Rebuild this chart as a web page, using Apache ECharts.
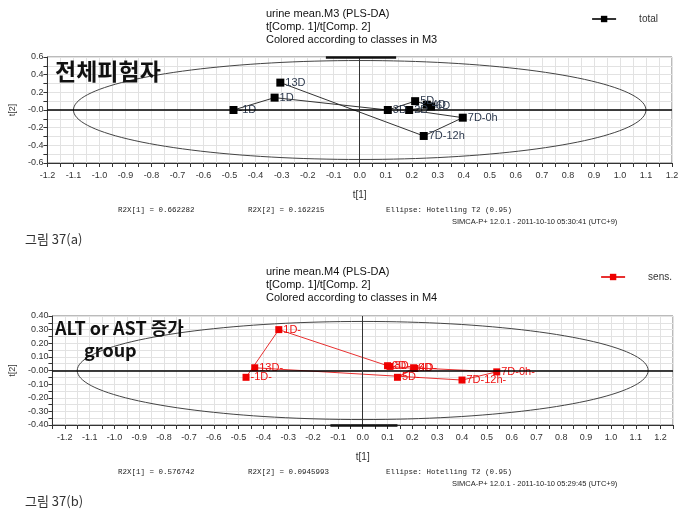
<!DOCTYPE html>
<html><head><meta charset="utf-8">
<script src="https://cdn.jsdelivr.net/npm/echarts@6/dist/echarts.min.js"></script>
<style>html,body{margin:0;padding:0;background:#fff}#c{width:699px;height:524px}</style>
</head><body><div id="c"></div>
<script>
// ---- Data ----
const topLabels = ["-1D","1D","3D","5D","4D","6D","2D","7D-0h","7D-12h","13D"];
const topT1 = [-0.485,-0.327,0.108,0.213,0.258,0.274,0.19,0.396,0.246,-0.305];
const topT2 = [0.0,0.14,0.0,0.10,0.06,0.04,0.0,-0.087,-0.294,0.31];
const botLabels = ["-1D-","1D-","2D-","3D-","4D-","5D-","6D-","7D-0h-","7D-12h-","13D-"];
const botT1 = [-0.47,-0.338,0.10,0.11,0.21,0.14,0.205,0.54,0.40,-0.435];
const botT2 = [-0.05,0.30,0.035,0.03,0.015,-0.05,0.02,-0.01,-0.07,0.02];
const topEllipse = [1.1, 0.56];   // Hotelling T2 (0.95) semi-axes
const botEllipse = [1.15, 0.36];
const topTitle = ["urine mean.M3 (PLS-DA)","t[Comp. 1]/t[Comp. 2]","Colored according to classes in M3"];
const botTitle = ["urine mean.M4 (PLS-DA)","t[Comp. 1]/t[Comp. 2]","Colored according to classes in M4"];
const topFoot = ["R2X[1] = 0.662282","R2X[2] = 0.162215","Ellipse: Hotelling T2 (0.95)","SIMCA-P+ 12.0.1 - 2011-10-10 05:30:41 (UTC+9)","그림 37(a)"];
const botFoot = ["R2X[1] = 0.576742","R2X[2] = 0.0945993","Ellipse: Hotelling T2 (0.95)","SIMCA-P+ 12.0.1 - 2011-10-10 05:29:45 (UTC+9)","그림 37(b)"];

const chart = echarts.init(document.getElementById('c'));
const SANS = 'Liberation Sans, Arial, sans-serif';

function xFmt(v){ const k=Math.round(v*20); if(k%2!==0) return ''; return (k/20).toFixed(1); }
function yFmtTop(v){ const k=Math.round(v*10); if(k%2!==0) return ''; return k===0?'-0.0':(k/10).toFixed(1); }
function yFmtBot(v){ const k=Math.round(v*20); if(k%2!==0) return ''; return k===0?'-0.00':(k/20).toFixed(2); }

function xAxis(gi,min,max){
  return {type:'value', gridIndex:gi, min:min, max:max, interval:0.05, name:'t[1]', nameLocation:'middle', nameGap:27,
    nameTextStyle:{fontSize:10, color:'#333', fontFamily:SANS},
    axisLine:{onZero:false, lineStyle:{color:'#333'}}, axisTick:{show:true, length:4, lineStyle:{color:'#333'}},
    axisLabel:{fontSize:9, color:'#333', fontFamily:SANS, margin:8, formatter:xFmt, showMinLabel:true, showMaxLabel:true},
    splitLine:{show:true, lineStyle:{color:'#e2e2e2', width:1}}};
}
function yAxis(gi,min,max,itv,fmt){
  return {type:'value', gridIndex:gi, min:min, max:max, interval:itv, name:'t[2]', nameLocation:'middle', nameGap:20,
    nameRotate:90, nameTextStyle:{fontSize:9, color:'#333', fontFamily:SANS},
    axisLine:{show:true, onZero:false, lineStyle:{color:'#333'}}, axisTick:{show:true, length:4, lineStyle:{color:'#333'}},
    axisLabel:{fontSize:9, color:'#333', fontFamily:SANS, margin:4, formatter:fmt},
    splitLine:{show:true, lineStyle:{color:'#e2e2e2', width:1}}};
}
function ellipseSeries(gi, ab){
  return {type:'custom', xAxisIndex:gi, yAxisIndex:gi, data:[[0,0]], silent:true, z:1,
    renderItem:function(params, api){
      const pts=[];
      for(let i=0;i<=160;i++){ const t=i/160*2*Math.PI; pts.push(api.coord([ab[0]*Math.cos(t), ab[1]*Math.sin(t)])); }
      return {type:'polyline', shape:{points:pts}, style:{stroke:'#444', fill:null, lineWidth:1}};
    }};
}
function dataSeries(gi,name,xs,ys,labs,color,lineColor,labelColor,size,edgeY){
  return {type:'line', name:name, xAxisIndex:gi, yAxisIndex:gi, z:3,
    data: xs.map((x,i)=>[x, ys[i], labs[i]]),
    symbol:'rect', symbolSize:size, showSymbol:true, animation:false,
    itemStyle:{color:color}, lineStyle:{color:lineColor, width:1},
    label:{show:true, position:'right', distance:1, formatter:p=>p.data[2], color:labelColor, fontSize:11, fontFamily:SANS},
    labelLayout:{hideOverlap:false},
    markLine:{silent:true, symbol:'none', animation:false, label:{show:false},
      data:[
        {yAxis:0, lineStyle:{color:'#000', type:'solid', width:1.5}},
        {xAxis:0, lineStyle:{color:'#333', type:'solid', width:1}},
        [{coord:[-0.13,edgeY], lineStyle:{color:'#111', type:'solid', width:2.5}},{coord:[0.14,edgeY]}]
      ]}};
}

function texts(lines, foot, y0, fy){
  const g=[];
  lines.forEach((t,i)=>g.push({type:'text', left:266, top:y0+i*13, style:{text:t, font:'11px '+SANS, fill:'#111'}}));
  g.push({type:'text', left:118, top:fy, style:{text:foot[0], font:'7.5px Liberation Mono, monospace', fill:'#222'}});
  g.push({type:'text', left:248, top:fy, style:{text:foot[1], font:'7.5px Liberation Mono, monospace', fill:'#222'}});
  g.push({type:'text', left:386, top:fy, style:{text:foot[2], font:'7.5px Liberation Mono, monospace', fill:'#222'}});
  g.push({type:'text', left:452, top:fy+12, style:{text:foot[3], font:'7.5px '+SANS, fill:'#222'}});
  g.push({type:'text', left:25, top:fy+27, style:{text:foot[4], font:'13px Noto Sans CJK KR', fill:'#333'}});
  return g;
}

const graphic = [].concat(
  texts(topTitle, topFoot, 8, 206),
  texts(botTitle, botFoot, 266, 468),
  [
    {type:'text', left:55, top:60, z:10, style:{text:'전체피험자', font:'bold 23px Noto Sans CJK KR', fill:'#111'}},
    {type:'text', left:55, top:319, z:10, style:{text:'ALT or AST 증가', font:'bold 18px Noto Sans CJK KR', fill:'#111'}},
    {type:'text', left:84, top:341, z:10, style:{text:'group', font:'bold 18px Noto Sans CJK KR', fill:'#111'}}
  ]);

chart.setOption({
  animation:false,
  backgroundColor:'#fff',
  grid:[
    {left:43, top:57, width:629, height:106, show:true, borderColor:'#777', borderWidth:1, backgroundColor:'transparent'},
    {left:47, top:316, width:626, height:109, show:true, borderColor:'#777', borderWidth:1, backgroundColor:'transparent'}
  ],
  xAxis:[xAxis(0,-1.2,1.2), xAxis(1,-1.25,1.25)],
  yAxis:[yAxis(0,-0.6,0.6,0.1,yFmtTop), yAxis(1,-0.4,0.4,0.05,yFmtBot)],
  legend:[
    {data:['total'], right:36, top:9, itemWidth:24, itemHeight:8, textStyle:{fontSize:10, color:'#333', fontFamily:SANS, padding:[0,0,0,18]}},
    {data:['sens.'], right:22, top:267, itemWidth:24, itemHeight:8, textStyle:{fontSize:10, color:'#333', fontFamily:SANS, padding:[0,0,0,18]}}
  ],
  graphic: graphic,
  series:[
    ellipseSeries(0, topEllipse),
    ellipseSeries(1, botEllipse),
    dataSeries(0,'total',topT1,topT2,topLabels,'#000','#333','#2e3a4e',8,0.6),
    dataSeries(1,'sens.',botT1,botT2,botLabels,'#ee0000','#e83030','#ee1111',7,-0.4)
  ]
});
</script></body></html>
